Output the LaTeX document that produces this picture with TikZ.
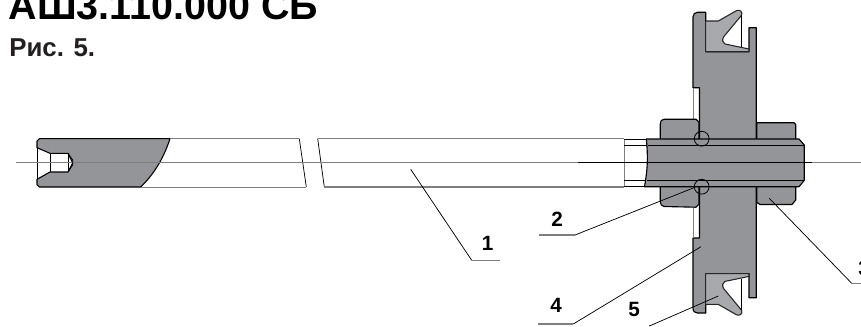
\documentclass[tikz,border=0pt]{standalone}
\usepackage{fontspec}
\setmainfont{Liberation Sans}
\definecolor{bodygrey}{HTML}{939598}
\definecolor{sealgrey}{HTML}{A7A9AC}
\definecolor{tubegrey}{HTML}{7F7F7F}
\definecolor{inkgrey}{HTML}{231F20}
\tikzset{
  part/.style={draw=black,line width=.85pt,fill=bodygrey,line join=round},
  seal/.style={draw=black!85,line width=.8pt,fill=sealgrey,line join=round},
  thin line/.style={draw=black,line width=.55pt},
  tube/.style={draw=tubegrey,line width=.9pt},
  axis/.style={draw=tubegrey,line width=.7pt},
  axis dark/.style={draw=black,line width=1pt},
  leader/.style={draw=black,line width=.55pt},
  shelf/.style={draw=tubegrey,line width=.95pt},
  num/.style={inner sep=0pt,text=black,font=\fontsize{15.5}{17}\selectfont\bfseries},
}
\begin{document}
\begin{tikzpicture}[x=.75pt,y=-.75pt]
\useasboundingbox (0,0) rectangle (861,326);
\fill[white] (0,0) rectangle (861,326);
% titles
\node[anchor=base west,inner sep=0pt,font=\fontsize{29.6}{32}\selectfont\bfseries] (title) at (8.5,19) {АШ3.110.000 СБ};
\node[anchor=base west,inner sep=0pt,text=inkgrey,font=\fontsize{19.4}{22}\selectfont\bfseries] (fig) at (9,56.7) {Рис. 5.};
% rod, left piece
\draw[part,line width=.8pt] (39.5,138.7) -- (170,138.7) .. controls (163,160) and (153,175) .. (140.7,187) -- (39.5,187) -- (37,184.5) -- (37,179.3) -- (50,172) -- (68,172) -- (72.7,163) -- (68,153.3) -- (50,153.3) -- (37,147.7) -- (37,141) -- cycle;
\draw[thin line] (37,147.7) -- (37,179.3);
\draw[thin line] (50,153.3) -- (50,172);
\draw[thin line] (68,153.3) -- (68,172);
\draw[tube,line width=.7pt] (170,138.7) -- (299.3,138.7);
\draw[tube,line width=.7pt] (140.7,187) -- (306.3,187);
\draw[thin line] (299.3,138.7) -- (306.3,187);
% rod, right piece
\draw[thin line] (317.7,138.7) -- (324.3,187);
\draw[tube] (317.7,138.7) -- (624,138.7);
\draw[tube] (324.3,187) -- (624,187);
\draw[tube,line width=.7pt] (624,138.7) -- (624,187);
% flange
\draw[part] (693,17) .. controls (693,14) and (695,12.3) .. (697.5,12.3) -- (705.7,12.3) -- (705.7,51.7) -- (749,51.7) -- (749,27.7) -- (756.3,27.7) -- (756.3,297.7) -- (749,297.7) -- (749,273.7) -- (705.7,273.7) -- (705.7,313) -- (697.5,313) .. controls (695,313) and (693,311.5) .. (693,308) -- (693,238) -- (699.5,238) -- (699.5,87.7) -- (693,87.7) -- cycle;
\draw[tube,line width=.7pt] (693,87.7) -- (693,120);
\draw[tube,line width=.7pt] (693,206) -- (693,238);
% seals
\draw[seal] (705.7,21) -- (718.3,21) -- (736.7,10.5) .. controls (740,9.5) and (742.5,11.5) .. (741.7,15) -- (723.5,37) .. controls (722,40) and (722.5,43) .. (725,44) -- (749,49) -- (749,51.7) -- (705.7,51.7) -- cycle;
\draw[thin line] (741.7,15) -- (741.7,46.5);
\draw[seal] (705.7,304.4) -- (718.3,304.4) -- (736.7,314.9) .. controls (740,315.9) and (742.5,313.9) .. (741.7,310.4) -- (723.5,288.4) .. controls (722,285.4) and (722.5,282.4) .. (725,281.4) -- (749,276.4) -- (749,273.7) -- (705.7,273.7) -- cycle;
\draw[thin line] (741.7,310.4) -- (741.7,278.9);
% collars between tube and shaft
\draw[thin line] (624,139) -- (646,139);
\draw[thin line] (624,145) -- (648,145);
\draw[thin line] (624,180.5) -- (646,180.5);
\draw[thin line] (624,186.7) -- (645,186.7);
% nuts
\draw[part] (660.3,124) .. controls (660.3,121) and (661.5,119.3) .. (664,119.3) -- (696,119.3) -- (699,122) -- (699,140) -- (696,142.3) -- (663.5,142.3) -- (660.3,139) -- cycle;
\draw[part] (756.7,122.7) -- (794,122.7) -- (795.7,124.5) -- (795.7,139) -- (793,142.3) -- (759.5,142.3) -- (756.7,139) -- cycle;
\draw[part] (660.3,201.4) .. controls (660.3,204.4) and (661.5,206.1) .. (664,206.5) -- (696,207.2) -- (699,204) -- (699,186) -- (696,183.3) -- (663.5,183.3) -- (660.3,186.5) -- cycle;
\draw[part] (756.7,185) -- (758.5,183.3) -- (793,183.3) -- (795.7,185.5) -- (795.7,200) -- (792,204.5) -- (760,204.5) -- (756.7,202.3) -- cycle;
% shaft
\draw[part] (646.3,139) -- (799,139) -- (804.3,145) -- (804.3,180.3) -- (799,186.7) -- (644.5,186.7) .. controls (647,172) and (648.5,160) .. (646.3,139) -- cycle;
\draw[part,fill=none,line width=.7pt] (647.5,145) -- (804.3,145);
\draw[part,fill=none,line width=.7pt] (646.5,180.5) -- (804.3,180.5);
% flange line across the lower collar
\draw[part,fill=none] (699.5,187) -- (699.5,207);
% centre line
\coordinate (axisA) at (16,162.7);
\coordinate (axisB) at (578,162.7);
\coordinate (axisC) at (811.7,162.7);
\coordinate (axisD) at (861,162.7);
\draw[axis] (axisA) -- (axisB);
\draw[axis dark] (axisB) -- (axisC);
\draw[axis] (axisC) -- (axisD);
% drill tip
\draw[thin line] (68,153.3) -- (72.7,160) -- (72.7,165) -- (68,172);
% O-rings
\node[circle,draw=black,line width=.6pt,minimum size=14.8*.75pt,inner sep=0pt] (ringA) at (701.7,138.7) {};
\node[circle,draw=black,line width=.6pt,minimum size=14.8*.75pt,inner sep=0pt] (ringB) at (701.7,186.7) {};
% labels
\node[num] (n1) at (487.7,243) {1};
\node[num] (n2) at (557,219) {2};
\node[num] (n3) at (864,268) {3};
\node[num] (n4) at (556,305) {4};
\node[num] (n5) at (634,309.5) {5};
% leaders
\coordinate (p1) at (410.7,169.3);
\coordinate (k1) at (471.7,260.3);
\coordinate (e1) at (500,260.3);
\draw[leader] (p1) -- (k1);
\draw[shelf] (k1) -- (e1);
\coordinate (p2) at (695,187.3);
\coordinate (k2) at (575,235);
\coordinate (e2) at (539.3,235);
\draw[leader] (p2) -- (k2);
\draw[shelf] (k2) -- (e2);
\coordinate (p3) at (769.3,198.3);
\coordinate (k3) at (851.7,283.3);
\coordinate (e3) at (861,283.3);
\draw[leader] (p3) -- (k3);
\draw[shelf] (k3) -- (e3);
\coordinate (p4) at (701,246.7);
\coordinate (k4) at (573.3,324);
\coordinate (e4) at (538,324);
\draw[leader] (p4) -- (k4);
\draw[shelf] (k4) -- (e4);
\coordinate (p5) at (718.3,296);
\coordinate (k5) at (651.7,325);
\coordinate (e5) at (649,326);
\draw[leader] (p5) -- (k5) -- (e5);
\end{tikzpicture}
\end{document}
